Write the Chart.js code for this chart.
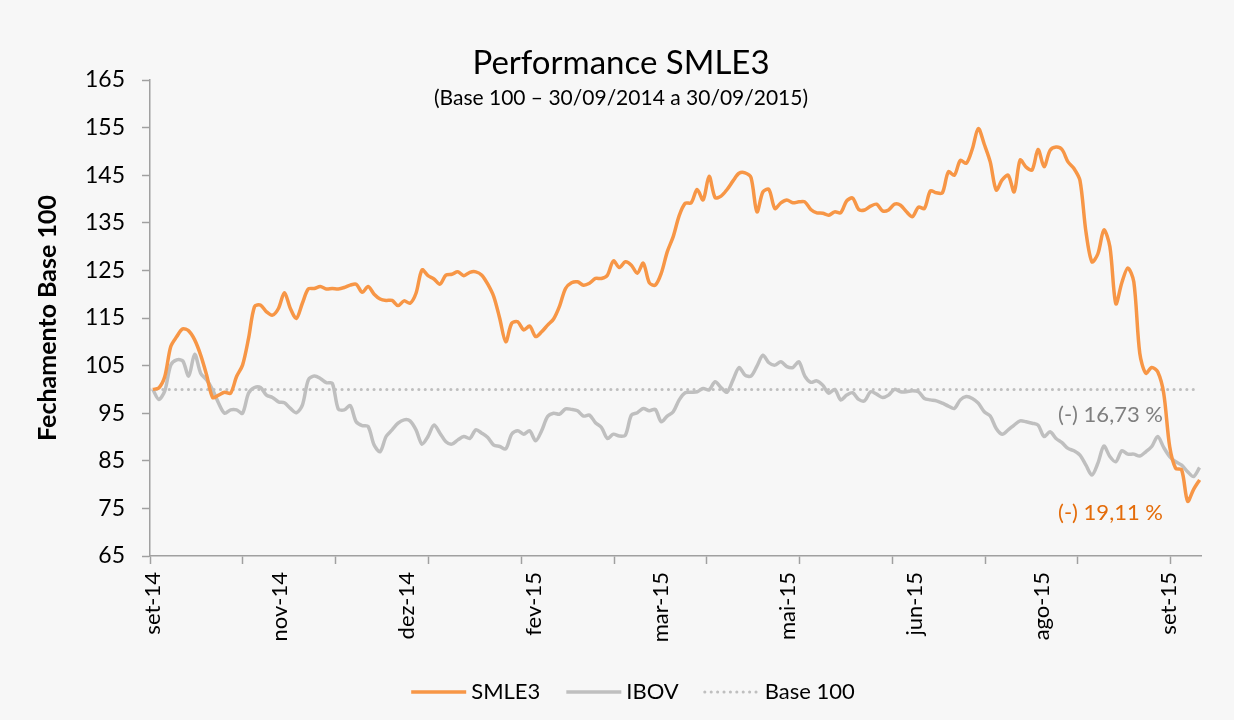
<!DOCTYPE html>
<html>
<head>
<meta charset="utf-8">
<title>Performance SMLE3</title>
<script src="https://cdn.jsdelivr.net/npm/chart.js@4.4.1/dist/chart.umd.min.js"></script>
<style>
  html, body { margin: 0; padding: 0; background: #f7f7f7; }
  #wrap { width: 1234px; height: 720px; }
</style>
</head>
<body>
<div id="wrap"><canvas id="myChart" width="1234" height="720"></canvas></div>
<script>

// fechamento base 100, amostras regulares de 30/09/2014 a 30/09/2015
const smle3 = [
  100.0, 100.3, 102.7, 109.0, 111.1, 112.7, 112.3, 110.4, 107.2, 103.0,
  98.3, 98.8, 99.4, 99.2, 102.7, 105.1, 110.7, 117.4, 117.7, 116.3,
  115.6, 117.0, 120.3, 117.0, 114.9, 118.1, 121.1, 121.2, 121.6, 121.1,
  121.2, 121.1, 121.4, 121.9, 122.1, 120.4, 121.6, 120.0, 119.0, 118.7,
  118.7, 117.6, 118.6, 118.1, 120.2, 125.1, 123.9, 123.2, 122.1, 124.0,
  124.2, 124.7, 123.9, 124.6, 124.7, 124.0, 122.1, 119.5, 114.9, 110.0,
  113.9, 114.2, 112.5, 113.3, 111.1, 112.1, 113.5, 114.8, 117.5, 121.2,
  122.4, 122.6, 121.9, 122.3, 123.3, 123.3, 124.0, 127.0, 125.6, 126.8,
  126.1, 124.4, 126.5, 122.4, 121.9, 124.4, 128.9, 132.1, 136.5, 139.1,
  139.2, 142.0, 139.8, 144.8, 140.3, 140.6, 142.0, 143.8, 145.4, 145.5,
  144.5, 137.3, 141.5, 142.0, 138.0, 139.2, 139.8, 139.2, 139.4, 139.4,
  137.8, 137.1, 137.0, 136.6, 137.3, 137.1, 139.6, 140.2, 137.8, 137.7,
  138.5, 138.9, 137.5, 137.7, 138.9, 138.7, 137.3, 136.3, 138.3, 138.0,
  141.7, 141.3, 141.3, 145.7, 145.0, 148.1, 147.5, 150.5, 154.8, 151.5,
  147.8, 141.9, 144.0, 145.0, 141.5, 148.2, 146.7, 146.1, 150.4, 146.8,
  150.2, 150.9, 150.4, 147.8, 146.4, 143.9, 133.1, 126.8, 128.5, 133.5,
  130.0, 118.0, 122.4, 125.5, 122.6, 107.6, 103.4, 104.6, 103.7, 99.2,
  88.0, 83.4, 83.1, 76.5, 79.0, 81.0
];

const ibov = [
  100.0, 97.9, 99.7, 105.1, 106.2, 106.0, 102.8, 107.4, 103.4, 102.0,
  99.9, 97.1, 95.0, 95.7, 95.7, 95.0, 99.2, 100.4, 100.4, 98.8,
  98.3, 97.4, 97.2, 96.0, 95.1, 96.7, 102.0, 102.8, 102.3, 101.4,
  101.3, 95.9, 95.7, 96.6, 93.2, 92.4, 92.2, 88.3, 86.9, 90.1,
  91.5, 92.9, 93.6, 93.4, 91.5, 88.5, 90.1, 92.5, 90.8, 89.0,
  88.5, 89.4, 90.1, 89.7, 91.5, 90.8, 89.9, 88.3, 88.0, 87.5,
  90.6, 91.3, 90.6, 91.3, 89.2, 91.3, 94.3, 95.0, 94.8, 95.9,
  95.8, 95.5, 94.4, 94.6, 93.0, 92.0, 89.7, 90.6, 90.2, 90.4,
  94.6, 95.1, 96.0, 95.5, 95.8, 93.2, 94.4, 95.3, 97.8, 99.3,
  99.4, 99.5, 100.2, 99.9, 101.6, 100.4, 99.4, 102.0, 104.6, 103.0,
  102.8, 104.9, 107.2, 105.6, 105.1, 105.8, 104.8, 104.6, 105.8, 102.8,
  101.5, 101.8, 100.9, 99.2, 100.0, 97.8, 98.8, 99.3, 97.9, 97.6,
  99.5, 99.0, 98.3, 98.8, 100.0, 99.5, 99.5, 99.7, 99.5, 98.1,
  97.8, 97.6, 97.1, 96.5, 96.0, 97.8, 98.5, 98.1, 97.1, 95.3,
  94.4, 91.8, 90.6, 91.5, 92.5, 93.4, 93.2, 92.9, 92.5, 90.1,
  91.1, 89.7, 88.8, 87.6, 87.1, 86.2, 84.1, 82.0, 84.5, 88.1,
  85.9, 84.8, 87.1, 86.4, 86.4, 86.0, 86.9, 88.0, 90.1, 87.8,
  85.9, 84.8, 84.1, 82.7, 81.7, 83.6
];

const baseLevel = 100;
const lastDay = 371;   // dias corridos de 30/09/2014 ate 30/09/2015 (eixo de datas)

// rotulos do eixo x (unidade principal de 45 dias) e marcas do eixo
const monthLabels = ["set-14", "nov-14", "dez-14", "fev-15", "mar-15", "mai-15", "jun-15", "ago-15", "set-15"];
const labelDays = [0, 45, 90, 135, 180, 225, 270, 315, 360];
const markDays = [-1, 31.9, 64.8, 97.7, 130.6, 163.5, 196.4, 229.2, 262.1, 295, 327.9, 360.8];

const yTicks = [65, 75, 85, 95, 105, 115, 125, 135, 145, 155, 165];

const endLabels = [
  { text: "(-) 16,73 %", color: "#7f7f7f", value: 94.6 },
  { text: "(-) 19,11 %", color: "#e46c0a", value: 74.0 },
];

const sampleDays = smle3.map((v, i) => (i * lastDay) / (smle3.length - 1));

const fontFamily = "Lato, 'Open Sans', sans-serif";
const axisColor = "#a0a0a0";

Chart.defaults.font.family = fontFamily;
Chart.defaults.color = "#000";

const headerPlugin = {
  id: "header",
  beforeDraw: (chart) => {
    const c = chart.ctx;
    c.save();
    c.fillStyle = "#f7f7f7";
    c.fillRect(0, 0, chart.width, chart.height);
    c.restore();
  },
  afterDraw: (chart) => {
    const c = chart.ctx;
    const xs = chart.scales.x;
    const ys = chart.scales.y;
    c.save();
    c.fillStyle = "#000";
    c.textAlign = "center";
    c.textBaseline = "alphabetic";
    c.font = "33px " + fontFamily;
    c.fillText("Performance SMLE3", 621, 74);
    c.font = "21px " + fontFamily;
    c.fillText("(Base 100 \u2013 30/09/2014 a 30/09/2015)", 621, 105);

    c.textAlign = "right";
    c.textBaseline = "middle";
    c.font = "22px " + fontFamily;
    endLabels.forEach((lab) => {
      c.fillStyle = lab.color;
      c.fillText(lab.text, xs.getPixelForValue(358), ys.getPixelForValue(lab.value));
    });
    c.restore();
  },
};

// legenda desenhada a partir dos proprios datasets (linha + texto)
const legendPlugin = {
  id: "bottomLegend",
  afterDraw: (chart) => {
    const c = chart.ctx;
    const sets = chart.data.datasets;
    const lineW = 55;
    const gapText = 5;
    const gapItem = 26;
    const legendY = 692;
    c.save();
    c.font = "22px " + fontFamily;
    c.textBaseline = "middle";
    c.textAlign = "left";

    let total = 0;
    sets.forEach((ds, i) => {
      total += lineW + gapText + c.measureText(ds.label).width;
      if (i < sets.length - 1) total += gapItem;
    });

    let x = 633 - total / 2;
    sets.forEach((ds) => {
      c.strokeStyle = ds.borderColor;
      c.lineWidth = ds.borderWidth;
      c.lineCap = ds.borderCapStyle || "butt";
      c.setLineDash(ds.borderDash || []);
      c.beginPath();
      c.moveTo(x, legendY);
      c.lineTo(x + lineW, legendY);
      c.stroke();
      c.setLineDash([]);
      x += lineW + gapText;
      c.fillStyle = "#000";
      c.fillText(ds.label, x, legendY);
      x += c.measureText(ds.label).width + gapItem;
    });
    c.restore();
  },
};

const ctx = document.getElementById("myChart").getContext("2d");

const myChart = new Chart(ctx, {
  type: "line",
  data: {
    labels: sampleDays,
    datasets: [
      {
        label: "SMLE3",
        data: smle3,
        borderColor: "#f79646",
        backgroundColor: "#f79646",
        borderWidth: 3.5,
        pointRadius: 0,
        tension: 0.3,
      },
      {
        label: "IBOV",
        data: ibov,
        borderColor: "#bfbfbf",
        backgroundColor: "#bfbfbf",
        borderWidth: 3.5,
        pointRadius: 0,
        tension: 0.3,
      },
      {
        label: "Base 100",
        data: [{ x: -1, y: baseLevel }, { x: lastDay - 2, y: baseLevel }],
        borderColor: "#bfbfbf",
        backgroundColor: "#bfbfbf",
        borderWidth: 3,
        borderDash: [0.1, 6.3],
        borderCapStyle: "round",
        pointRadius: 0,
      },
    ],
  },
  options: {
    responsive: false,
    animation: false,
    devicePixelRatio: 1,
    layout: { padding: { top: 80, right: 33, bottom: 65, left: 0 } },
    plugins: {
      tooltip: { enabled: false },
      legend: { display: false },
    },
    scales: {
      x: {
        type: "linear",
        min: -1,
        max: 371.5,
        afterBuildTicks: (scale) => {
          const vals = markDays.concat(labelDays).sort((a, b) => a - b);
          scale.ticks = vals.map((v) => ({ value: v }));
        },
        afterFit: (scale) => {
          scale.height = 99;
        },
        ticks: {
          autoSkip: false,
          minRotation: 90,
          maxRotation: 90,
          padding: 8,
          font: { size: 22 },
          color: "#000",
          callback: (value) => {
            const idx = labelDays.indexOf(value);
            return idx >= 0 ? monthLabels[idx] : "";
          },
        },
        grid: {
          drawOnChartArea: false,
          tickLength: 8,
          tickWidth: 1.5,
          tickColor: (c) => (c.tick && markDays.includes(c.tick.value) ? axisColor : "rgba(0,0,0,0)"),
        },
        border: { color: axisColor, width: 1.5 },
      },
      y: {
        min: 65,
        max: 165,
        afterBuildTicks: (scale) => {
          scale.ticks = yTicks.map((v) => ({ value: v }));
        },
        afterFit: (scale) => {
          scale.width = 150;
        },
        ticks: { padding: 17, font: { size: 23 }, color: "#000" },
        grid: { drawOnChartArea: false, tickLength: 8, tickWidth: 1.5, tickColor: axisColor },
        border: { color: axisColor, width: 1.5 },
        title: {
          display: true,
          text: "Fechamento Base 100",
          font: { size: 25, weight: "bold" },
          color: "#000",
          padding: { top: 33, bottom: 0 },
        },
      },
    },
  },
  plugins: [headerPlugin, legendPlugin],
});

</script>
</body>
</html>
